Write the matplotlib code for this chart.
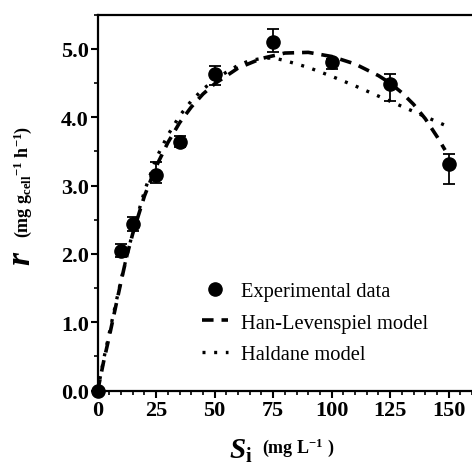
import matplotlib
matplotlib.use("Agg")
import matplotlib.pyplot as plt
from matplotlib.lines import Line2D
from matplotlib.ticker import MultipleLocator, FormatStrFormatter

plt.rcParams['font.family'] = ['Liberation Serif', 'DejaVu Serif']
plt.rcParams['mathtext.fontset'] = 'custom'
plt.rcParams['mathtext.rm'] = 'Liberation Serif:bold'
plt.rcParams['mathtext.bf'] = 'Liberation Serif:bold'
plt.rcParams['mathtext.it'] = 'Liberation Serif:italic:bold'

# Experimental data (mean +/- error)
s_exp = [0, 10, 15, 25, 35, 50, 75, 100, 125, 150]
r_exp = [0.0, 2.05, 2.44, 3.16, 3.64, 4.63, 5.10, 4.81, 4.49, 3.31]
err_lo = [0.0, 0.10, 0.10, 0.12, 0.08, 0.16, 0.15, 0.11, 0.25, 0.29]
err_hi = [0.0, 0.10, 0.10, 0.19, 0.08, 0.12, 0.19, 0.05, 0.14, 0.15]

# Han-Levenspiel fit
s_hl = [0, 2.5, 5, 7.5, 10, 12.5, 15, 20, 25, 30, 35, 40, 45, 50, 60, 70,
        80, 90, 100, 110, 120, 125, 130, 135, 140, 145, 148.5]
r_hl = [0.0, 0.42, 0.80, 1.20, 1.60, 1.98, 2.30, 2.85, 3.28, 3.63, 3.92,
        4.15, 4.34, 4.49, 4.72, 4.86, 4.94, 4.95, 4.89, 4.78, 4.61, 4.50,
        4.36, 4.19, 3.98, 3.72, 3.52]

# Haldane fit
s_hd = [0, 2.5, 5, 7.5, 10, 12.5, 15, 20, 25, 30, 35, 40, 45, 50, 55, 60,
        65, 70, 75, 80, 90, 100, 110, 120, 130, 140, 150]
r_hd = [0.0, 0.45, 0.85, 1.24, 1.62, 1.98, 2.32, 2.92, 3.40, 3.74, 4.02,
        4.24, 4.41, 4.55, 4.66, 4.76, 4.83, 4.86, 4.87, 4.83, 4.73, 4.60,
        4.46, 4.31, 4.16, 4.01, 3.86]

fig = plt.figure(figsize=(4.72, 4.64), dpi=100)
ax = fig.add_axes([0.207, 0.156, 0.793, 0.810])

hl_line, = ax.plot(s_hl, r_hl, color='black', lw=2.6,
                   linestyle=(0, (3.2, 2.2)), zorder=2)
hd_line, = ax.plot(s_hd, r_hd, color='black', lw=2.4,
                   linestyle=(0, (0.9, 2.6)), zorder=2)
ax.errorbar(s_exp, r_exp, yerr=[err_lo, err_hi], fmt='o', color='black',
            ms=9.5, elinewidth=1.3, capsize=4.3, capthick=1.3,
            zorder=3, clip_on=False)

ax.set_xlim(0, 160)
ax.set_ylim(0, 5.5)
ax.xaxis.set_major_locator(MultipleLocator(25))
ax.xaxis.set_minor_locator(MultipleLocator(5))
ax.yaxis.set_major_locator(MultipleLocator(1.0))
ax.yaxis.set_minor_locator(MultipleLocator(0.5))
ax.yaxis.set_major_formatter(FormatStrFormatter('%.1f'))

ax.spines['right'].set_visible(False)
for sp in ['left', 'top', 'bottom']:
    ax.spines[sp].set_linewidth(1.6)
ax.tick_params(which='major', direction='out', length=5, width=1.5,
               labelsize=16, pad=1.5)
ax.tick_params(which='minor', direction='out', length=3, width=1.2)
for lab in ax.get_xticklabels() + ax.get_yticklabels():
    lab.set_fontweight('bold')

# plain dot in the legend, no error bar
dot = Line2D([], [], marker='o', ls='none', ms=9.5, color='black')
ax.legend([dot, hl_line, hd_line],
          ['Experimental data', 'Han-Levenspiel model', 'Haldane model'],
          loc='center left', bbox_to_anchor=(0.428, 0.302),
          bbox_transform=fig.transFigure, frameon=False, fontsize=14.8,
          handlelength=1.25, handletextpad=0.65, labelspacing=0.6,
          borderpad=0, borderaxespad=0)

# axis titles
fig.text(22 / 472, 1 - 258 / 464, r'$\mathit{r}$', fontsize=24,
         rotation=90, ha='center', va='center')
fig.text(23 / 472, 1 - 182 / 464,
         r'(mg g$_{\mathrm{cell}}$$^{\mathrm{-1}}$ h$^{\mathrm{-1}}$)',
         fontsize=13, fontweight='bold', rotation=90, ha='center',
         va='center')
fig.text(241 / 472, 1 - 451 / 464, r'$\mathit{S}_{\mathbf{i}}$',
         fontsize=21, ha='center', va='center')
fig.text(262 / 472, 1 - 448 / 464, r'(mg L$^{\mathrm{-1}}$ )',
         fontsize=13, fontweight='bold', ha='left', va='center')

fig.savefig('out.png', dpi=100)
